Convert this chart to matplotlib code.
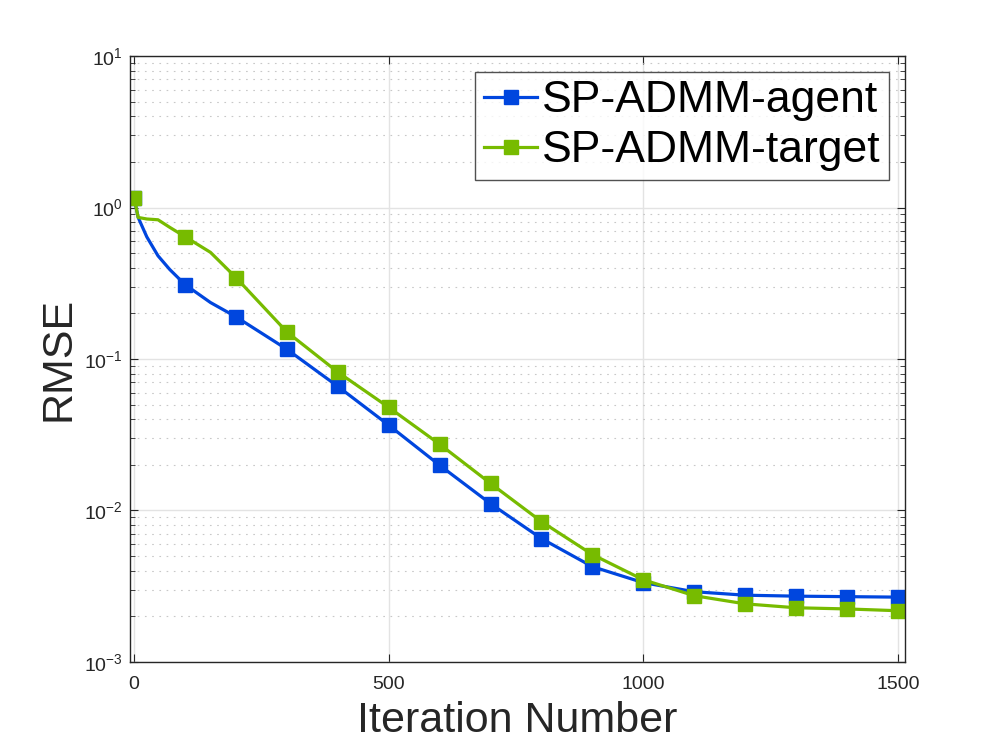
import matplotlib.pyplot as plt
import numpy as np
from matplotlib.ticker import FixedLocator, LogLocator, NullFormatter

plt.rcParams['font.family'] = ['Liberation Sans', 'DejaVu Sans']
plt.rcParams['mathtext.fontset'] = 'custom'
plt.rcParams['mathtext.rm'] = 'Liberation Sans'

# line points (iterations), markers drawn every 100 iterations
iters = [0, 8, 25, 47, 70, 100, 150, 200, 300, 400, 500, 600, 700, 800, 900, 1000,
         1100, 1200, 1300, 1400, 1500]
agent = [1.16, 0.86, 0.64, 0.48, 0.39, 0.31, 0.236, 0.19, 0.116, 0.066, 0.0366, 0.0199,
         0.0111, 0.00653, 0.00426, 0.00334, 0.00291, 0.00276, 0.00272, 0.00270, 0.00268]
target = [1.16, 0.86, 0.84, 0.83, 0.74, 0.642, 0.506, 0.345, 0.151, 0.082, 0.048, 0.0274,
          0.0151, 0.00845, 0.00512, 0.00349, 0.00274, 0.00242, 0.00228, 0.00224, 0.00218]
mark_idx = [i for i, v in enumerate(iters) if v % 100 == 0]

fig = plt.figure(figsize=(9.97, 7.47), dpi=100)
ax = fig.add_axes([0.1304, 0.1138, 0.7773, 0.8112])

ax.semilogy(iters, agent, '-s', color='#0046DE', lw=2.3, ms=10,
            markevery=mark_idx, label='SP-ADMM-agent')
ax.semilogy(iters, target, '-s', color='#77BB00', lw=2.3, ms=10,
            markevery=mark_idx, label='SP-ADMM-target')

ax.set_xlim(-8, 1514)
ax.set_ylim(1e-3, 1e1)
ax.xaxis.set_major_locator(FixedLocator([0, 500, 1000, 1500]))
ax.yaxis.set_minor_locator(LogLocator(base=10, subs=np.arange(2, 10), numticks=10))
ax.yaxis.set_minor_formatter(NullFormatter())
ax.set_yticks([1e-3, 1e-2, 1e-1, 1e0, 1e1])
ax.set_yticklabels([r'$\mathregular{10^{-3}}$', r'$\mathregular{10^{-2}}$',
                    r'$\mathregular{10^{-1}}$', r'$\mathregular{10^{0}}$',
                    r'$\mathregular{10^{1}}$'])

ax.grid(True, which='major', color='#e3e3e3', lw=1, ls='-')
ax.grid(True, which='minor', axis='y', color='#c8c8c8', lw=0.8, ls=(0, (1.5, 5)))
ax.set_axisbelow(True)

ax.tick_params(which='both', direction='in', top=True, right=True, colors='#262626',
               labelsize=14)
ax.tick_params(axis='x', pad=10)
ax.tick_params(axis='y', pad=5)
ax.tick_params(which='major', length=6)
ax.tick_params(which='minor', length=3.5)
for s in ax.spines.values():
    s.set_color('#262626')
    s.set_linewidth(1.0)

ax.set_xlabel('Iteration Number', fontsize=31, color='#262626', labelpad=6)
ax.set_ylabel('RMSE', fontsize=31, color='#262626', labelpad=4)

leg = ax.legend(loc='upper right', fontsize=32, frameon=True, fancybox=False,
                borderpad=0.2, labelspacing=0.2, handlelength=1.2, handletextpad=0.1,
                borderaxespad=0.35)
leg.get_frame().set_edgecolor('#262626')
leg.get_frame().set_linewidth(1.0)

plt.savefig('out.png')
